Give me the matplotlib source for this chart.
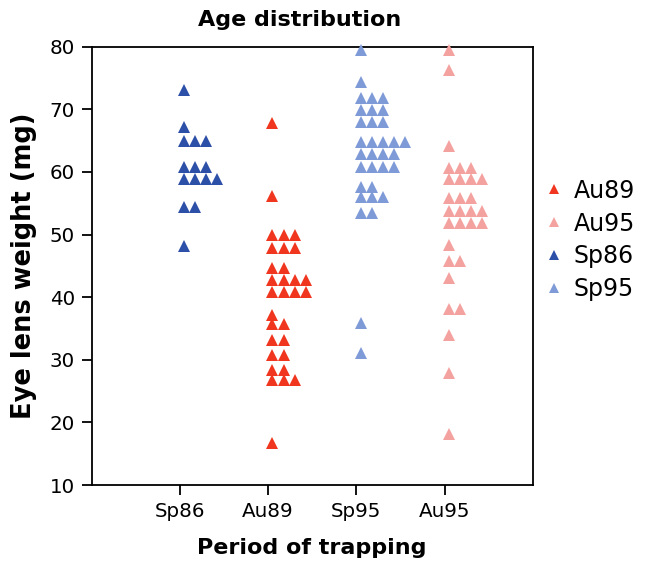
import numpy as np
import matplotlib
matplotlib.use('Agg')
import matplotlib.pyplot as plt
from matplotlib.lines import Line2D

plt.rcParams['font.family'] = ['DejaVu Sans']

# eye lens weight (mg), one value per animal
sp86 = [73.1, 67.2, 64.9, 64.9, 64.9, 60.8, 60.8, 60.8,
        58.9, 58.9, 58.9, 58.9, 54.4, 54.4, 48.2]
au89 = [67.8, 56.1, 50.0, 50.0, 50.0, 47.9, 47.9, 47.9, 44.6, 44.6,
        42.7, 42.7, 42.7, 42.7, 40.9, 40.9, 40.9, 40.9, 37.1, 35.7, 35.7,
        33.2, 33.2, 30.8, 30.8, 28.4, 28.4, 26.8, 26.8, 26.8, 16.7]
sp95 = [79.5, 74.4, 71.8, 71.8, 71.8, 69.9, 69.9, 69.9, 68.0, 68.0, 68.0,
        64.8, 64.8, 64.8, 64.8, 64.8, 62.9, 62.9, 62.9, 62.9,
        60.8, 60.8, 60.8, 60.8, 57.6, 57.6, 56.0, 56.0, 56.0,
        53.5, 53.5, 35.9, 31.0]
au95 = [79.4, 76.3, 64.1, 60.6, 60.6, 60.6, 58.8, 58.8, 58.8, 58.8,
        55.9, 55.9, 55.9, 53.8, 53.8, 53.8, 53.8, 51.9, 51.9, 51.9, 51.9,
        48.3, 45.7, 45.7, 43.1, 38.1, 38.1, 33.9, 27.9, 18.1]

categories = ['Sp86', 'Au89', 'Sp95', 'Au95']
groups = [sp86, au89, sp95, au95]
colors = {'Au89': '#f0361e', 'Au95': '#f4a2a0', 'Sp86': '#2c4fa8', 'Sp95': '#7e9bd8'}

fig = plt.figure(figsize=(6.45, 5.62), dpi=100)
ax = fig.add_axes([0.142, 0.137, 0.684, 0.780])

## stack equal values side by side, to the right of the category
for i, (name, vals) in enumerate(zip(categories, groups)):
    xs, ys = [], []
    seen = {}
    for v in vals:
        k = seen.get(v, 0)
        seen[v] = k + 1
        xs.append(i + 1 + 0.05 + k * 0.125)
        ys.append(v)
    ax.plot(xs, ys, linestyle='none', marker='^', markersize=8.8,
            color=colors[name], markeredgewidth=0, clip_on=False, zorder=3)

ax.set_xlim(0, 5)
ax.set_ylim(10, 80)
ax.set_xticks(range(1, 5))
ax.set_xticklabels(categories)
ax.set_yticks(range(10, 81, 10))
ax.tick_params(labelsize=14.3, length=7, width=1.3, pad=5)
for s in ax.spines.values():
    s.set_linewidth(1.3)

ax.set_xlabel('Period of trapping', fontsize=16, fontweight='bold')
ax.xaxis.set_label_coords(0.5, -0.12)
ax.set_ylabel('Eye lens weight (mg)', fontsize=18.5, fontweight='bold')
ax.yaxis.set_label_coords(-0.124, 0.5)
fig.text(300 / 645, 1 - 20 / 562, 'Age distribution', fontsize=16, fontweight='bold',
         ha='center', va='center')

handles = [Line2D([], [], linestyle='none', marker='^', markersize=7.5,
                  color=colors[n], markeredgewidth=0) for n in sorted(colors)]
fig.legend(handles, sorted(colors), loc='center left',
           bbox_to_anchor=(0.830, 1 - 240 / 562), frameon=False, borderaxespad=0,
           fontsize=17, handlelength=0.8, handletextpad=0.42, labelspacing=0.38)

plt.savefig('out.png', dpi=100)
